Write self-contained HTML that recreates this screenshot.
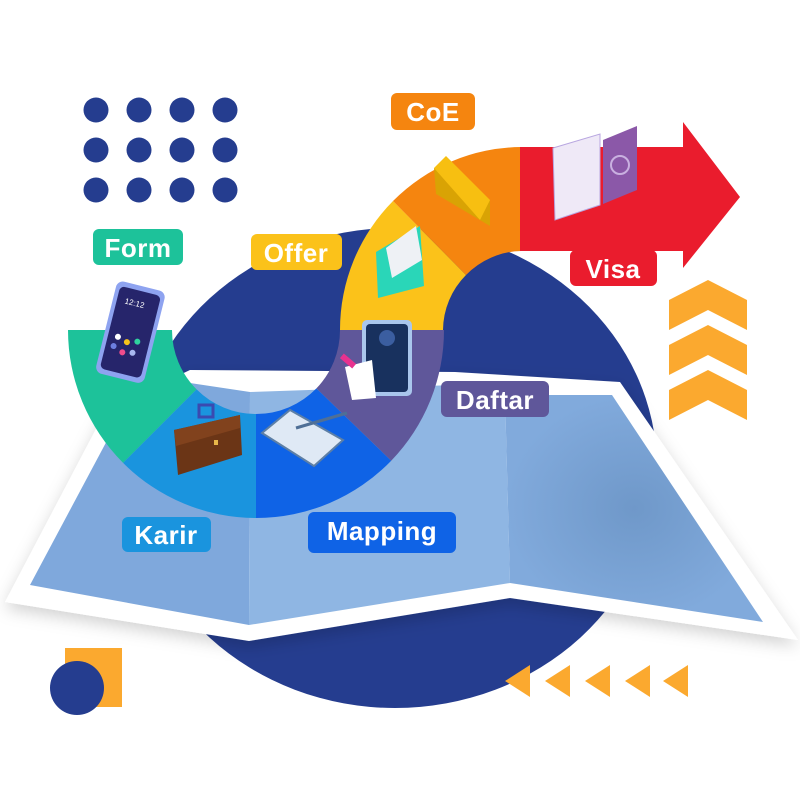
<!DOCTYPE html>
<html><head><meta charset="utf-8"><style>
html,body{margin:0;padding:0;background:#fff;}
svg{display:block;}
.lb{font-family:"Liberation Sans",sans-serif;font-weight:bold;fill:#fff;font-size:26px;letter-spacing:0.5px;}
</style></head><body>
<svg width="800" height="800" viewBox="0 0 800 800" xmlns="http://www.w3.org/2000/svg">
<defs>
<filter id="sh" x="-10%" y="-10%" width="130%" height="130%"><feDropShadow dx="0" dy="6" stdDeviation="8" flood-color="#000" flood-opacity="0.18"/></filter>
<radialGradient id="rg" cx="0.5" cy="0.5" r="0.5"><stop offset="0" stop-color="#6f98c9"/><stop offset="1" stop-color="#81aadc"/></radialGradient>
</defs>
<!-- dots -->
<g fill="#253d8f">
<circle cx="96" cy="110" r="12.5"/><circle cx="139" cy="110" r="12.5"/><circle cx="182" cy="110" r="12.5"/><circle cx="225" cy="110" r="12.5"/>
<circle cx="96" cy="150" r="12.5"/><circle cx="139" cy="150" r="12.5"/><circle cx="182" cy="150" r="12.5"/><circle cx="225" cy="150" r="12.5"/>
<circle cx="96" cy="190" r="12.5"/><circle cx="139" cy="190" r="12.5"/><circle cx="182" cy="190" r="12.5"/><circle cx="225" cy="190" r="12.5"/>
</g>
<!-- big circle -->
<ellipse cx="395" cy="468" rx="262" ry="240" fill="#253d8f"/>
<!-- map -->
<polygon points="5,602 106,410 190,370 455,372 620,382 798,640 510,598 249,641" fill="#fff" filter="url(#sh)"/>
<polygon points="30,585 118,420 190,383 250,392 249,625" fill="#7fa8dc"/>
<polygon points="250,392 455,385 505,395 510,583 249,625" fill="#8fb6e3"/>
<polygon points="505,395 612,395 763,622 510,583" fill="url(#rg)"/>
<!-- lower ring -->
<path d="M68,330 A188,188 0 0 0 123.1,462.9 L196.6,389.4 A84,84 0 0 1 172,330 Z" fill="#1dc29a"/>
<path d="M123.1,462.9 A188,188 0 0 0 256,518 L256,414 A84,84 0 0 1 196.6,389.4 Z" fill="#1a94de"/>
<path d="M256,518 A188,188 0 0 0 391.2,460.7 L316.4,388.4 A84,84 0 0 1 256,414 Z" fill="#0f63e6"/>
<path d="M391.2,460.7 A188,188 0 0 0 444,330 L340,330 A84,84 0 0 1 316.4,388.4 Z" fill="#5f579a"/>
<!-- upper ring -->
<path d="M340,330 A183,183 0 0 1 393,201 L466,275 A79,79 0 0 0 443,330 Z" fill="#fbc21a"/>
<path d="M393,201 A183,183 0 0 1 521,147 L521,251 A79,79 0 0 0 466,275 Z" fill="#f5850f"/>
<path d="M520,147 L683,147 L683,122 L740,197 L683,268 L683,251 L520,251 Z" fill="#ea1c2d"/>
<!-- icons: phone -->
<g transform="rotate(14 132 330)">
<rect x="106" y="285" width="50" height="95" rx="7" fill="#8ea3f0"/>
<rect x="110" y="290" width="42" height="85" rx="5" fill="#26256b"/>
<text x="118" y="306" font-family="Liberation Sans,sans-serif" font-size="8" fill="#fff">12:12</text>
<circle cx="120" cy="340" r="3" fill="#fff"/><circle cx="130" cy="343" r="3" fill="#f7c21b"/><circle cx="140" cy="340" r="3" fill="#2fd39e"/>
<circle cx="118" cy="350" r="3" fill="#6c7fe0"/><circle cx="128" cy="354" r="3" fill="#f04c8c"/><circle cx="138" cy="352" r="3" fill="#a9b8f0"/>
</g>
<!-- briefcase -->
<rect x="199" y="405" width="14" height="12" fill="none" stroke="#3a4ab0" stroke-width="3"/>
<polygon points="174,430 240,415 242,455 178,475" fill="#6b3516"/>
<polygon points="174,430 240,415 240,428 176,446" fill="#81421d"/>
<rect x="214" y="440" width="4" height="5" fill="#e9b84a"/>
<!-- clipboard -->
<polygon points="262,433 290,410 343,440 314,466" fill="#dfe9f5" stroke="#5d7fa6" stroke-width="2"/>
<line x1="296" y1="428" x2="347" y2="413" stroke="#4f6f96" stroke-width="3"/>
<!-- registration phone -->
<rect x="362" y="320" width="50" height="76" rx="5" fill="#a9c6ec"/>
<rect x="366" y="324" width="42" height="68" rx="4" fill="#18315e"/>
<circle cx="387" cy="338" r="8" fill="#3b5ea0"/>
<polygon points="345,367 372,360 376,398 352,400" fill="#fff"/>
<rect x="340" y="358" width="16" height="6" transform="rotate(40 348 361)" fill="#e8328f"/>
<!-- envelope green -->
<polygon points="376,252 420,226 424,286 378,298" fill="#2ad6b8"/>
<polygon points="386,248 416,226 422,260 392,278" fill="#eef1f5"/>
<!-- envelope yellow -->
<polygon points="434,168 490,200 490,226 436,194" fill="#d9a304"/>
<polygon points="434,168 446,156 490,200 480,220" fill="#f7bf11"/>
<!-- passport -->
<polygon points="553,148 600,134 600,205 555,220" fill="#efe9f7" stroke="#b8a6e0"/>
<polygon points="603,140 637,126 637,190 603,204" fill="#8b58a8"/>
<circle cx="620" cy="165" r="9" fill="none" stroke="#c9b0e0" stroke-width="2"/>
<!-- labels -->
<rect x="93" y="229" width="90" height="36" rx="6" fill="#1dc29a"/><text class="lb" x="138" y="257" text-anchor="middle">Form</text>
<rect x="251" y="234" width="91" height="36" rx="6" fill="#fbc21a"/><text class="lb" x="296" y="262" text-anchor="middle">Offer</text>
<rect x="391" y="93" width="84" height="37" rx="6" fill="#f5850f"/><text class="lb" x="433" y="121" text-anchor="middle">CoE</text>
<rect x="570" y="250" width="87" height="36" rx="6" fill="#ea1c2d"/><text class="lb" x="613" y="278" text-anchor="middle">Visa</text>
<rect x="441" y="381" width="108" height="36" rx="6" fill="#5f579a"/><text class="lb" x="495" y="409" text-anchor="middle">Daftar</text>
<rect x="122" y="517" width="89" height="35" rx="6" fill="#1a94de"/><text class="lb" x="166" y="544" text-anchor="middle">Karir</text>
<rect x="308" y="512" width="148" height="41" rx="6" fill="#0f63e6"/><text class="lb" x="382" y="540" text-anchor="middle">Mapping</text>
<!-- chevrons -->
<g fill="#fba92f">
<polygon points="669,300 708,280 747,300 747,330 708,310 669,330"/>
<polygon points="669,345 708,325 747,345 747,375 708,355 669,375"/>
<polygon points="669,390 708,370 747,390 747,420 708,400 669,420"/>
</g>
<!-- bottom triangles -->
<g fill="#fba92f">
<polygon points="505,681 530,665 530,697"/>
<polygon points="545,681 570,665 570,697"/>
<polygon points="585,681 610,665 610,697"/>
<polygon points="625,681 650,665 650,697"/>
<polygon points="663,681 688,665 688,697"/>
</g>
<rect x="65" y="648" width="57" height="59" fill="#fba92f"/>
<circle cx="77" cy="688" r="27" fill="#253d8f"/>
</svg>
</body></html>
